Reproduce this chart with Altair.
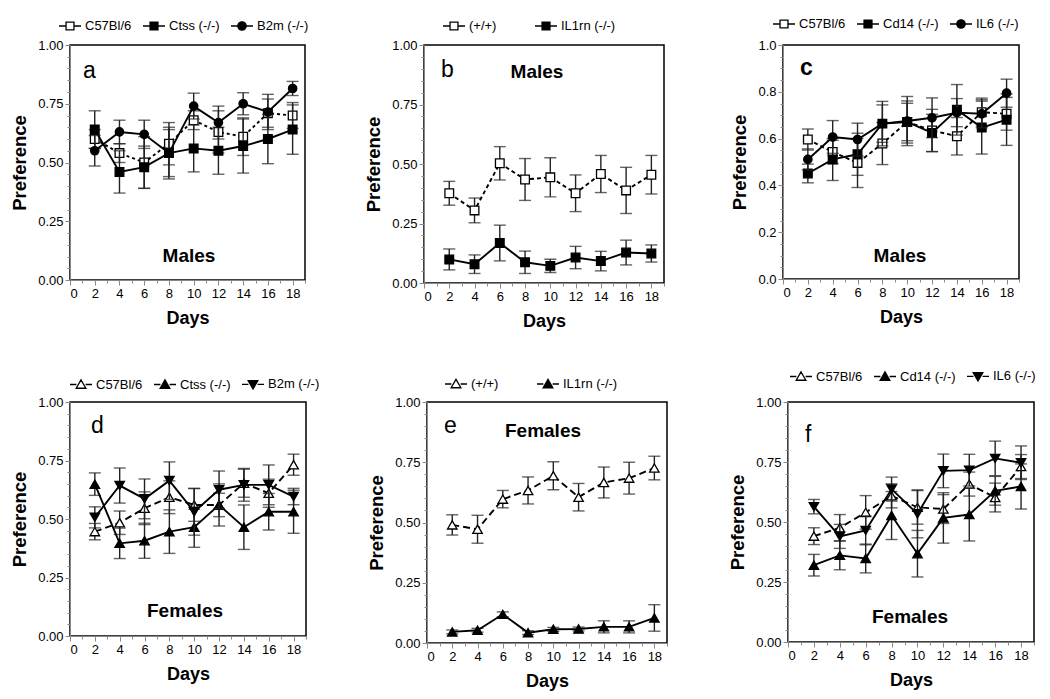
import altair as alt
import pandas as pd

FONT = "Liberation Sans"

days = [2, 4, 6, 8, 10, 12, 14, 16, 18]

# Panel a (males)
a_c57 = [0.60, 0.54, 0.50, 0.58, 0.68, 0.63, 0.61, 0.71, 0.70]
a_c57_err = [0.04, 0.04, 0.11, 0.09, 0.04, 0.09, 0.08, 0.06, 0.055]
a_ctss = [0.64, 0.46, 0.48, 0.54, 0.56, 0.55, 0.57, 0.60, 0.64]
a_ctss_err = [0.08, 0.09, 0.09, 0.10, 0.10, 0.10, 0.115, 0.105, 0.105]
a_b2m = [0.55, 0.63, 0.62, 0.54, 0.74, 0.67, 0.75, 0.715, 0.815]
a_b2m_err = [0.065, 0.05, 0.06, 0.11, 0.055, 0.07, 0.047, 0.075, 0.03]

# Panel b (males)
b_wt = [0.377, 0.305, 0.503, 0.435, 0.444, 0.377, 0.458, 0.389, 0.455]
b_wt_err = [0.05, 0.052, 0.07, 0.088, 0.082, 0.077, 0.078, 0.097, 0.081]
b_ko = [0.099, 0.079, 0.168, 0.087, 0.072, 0.107, 0.092, 0.128, 0.124]
b_ko_err = [0.044, 0.039, 0.075, 0.047, 0.028, 0.047, 0.041, 0.052, 0.036]

# Panel c (males)
c_c57 = [0.596, 0.543, 0.496, 0.579, 0.671, 0.635, 0.610, 0.713, 0.706]
c_c57_err = [0.045, 0.05, 0.105, 0.09, 0.08, 0.09, 0.08, 0.06, 0.07]
c_cd14 = [0.451, 0.511, 0.533, 0.664, 0.671, 0.624, 0.723, 0.647, 0.681]
c_cd14_err = [0.04, 0.09, 0.09, 0.08, 0.09, 0.08, 0.108, 0.113, 0.11]
c_il6 = [0.511, 0.607, 0.596, 0.664, 0.675, 0.689, 0.711, 0.706, 0.794]
c_il6_err = [0.045, 0.07, 0.07, 0.095, 0.105, 0.085, 0.06, 0.06, 0.06]

# Panel d (females)
d_c57 = [0.446, 0.484, 0.546, 0.593, 0.560, 0.560, 0.653, 0.610, 0.732]
d_c57_err = [0.035, 0.05, 0.07, 0.07, 0.07, 0.05, 0.06, 0.06, 0.045]
d_ctss = [0.649, 0.396, 0.407, 0.446, 0.465, 0.560, 0.465, 0.531, 0.531]
d_ctss_err = [0.048, 0.065, 0.075, 0.093, 0.086, 0.09, 0.095, 0.078, 0.092]
d_b2m = [0.507, 0.643, 0.586, 0.664, 0.531, 0.625, 0.646, 0.646, 0.596]
d_b2m_err = [0.045, 0.075, 0.085, 0.08, 0.10, 0.08, 0.07, 0.085, 0.035]

# Panel e (females)
e_wt = [0.490, 0.472, 0.597, 0.633, 0.694, 0.605, 0.666, 0.684, 0.726]
e_wt_err = [0.042, 0.058, 0.036, 0.056, 0.058, 0.057, 0.064, 0.066, 0.049]
e_ko = [0.046, 0.053, 0.119, 0.043, 0.057, 0.058, 0.067, 0.067, 0.104]
e_ko_err = [0.008, 0.008, 0.01, 0.008, 0.008, 0.008, 0.025, 0.025, 0.055]

# Panel f (females)
f_c57 = [0.441, 0.476, 0.540, 0.609, 0.561, 0.554, 0.658, 0.602, 0.731]
f_c57_err = [0.035, 0.055, 0.07, 0.05, 0.07, 0.06, 0.05, 0.06, 0.05]
f_cd14 = [0.320, 0.361, 0.348, 0.527, 0.368, 0.517, 0.531, 0.630, 0.648]
f_cd14_err = [0.045, 0.06, 0.06, 0.10, 0.097, 0.105, 0.11, 0.06, 0.094]
f_il6 = [0.564, 0.440, 0.465, 0.637, 0.534, 0.713, 0.716, 0.765, 0.747]
f_il6_err = [0.03, 0.05, 0.06, 0.05, 0.10, 0.07, 0.066, 0.072, 0.07]

# legend symbol paths (line segments + marker)
LINE = "M-1,0H-0.42M0.42,0H1"
P_SQ = LINE + "M-0.36,-0.36H0.36V0.36H-0.36Z"
P_CI = LINE + "M-0.38,0A0.38,0.38 0 1,1 0.38,0A0.38,0.38 0 1,1 -0.38,0Z"
P_TU = LINE + "M0,-0.42L0.44,0.34L-0.44,0.34Z"
P_TD = LINE + "M0,0.42L0.44,-0.34L-0.44,-0.34Z"
LEG_PATH = {"square": P_SQ, "circle": P_CI, "triangle-up": P_TU, "triangle-down": P_TD}

x_test = "datum.value % 2 == 0"
x_axis = alt.Axis(
    values=list(range(0, 20)),
    labelExpr=f"{x_test} ? datum.value : ''",
    tickSize={"condition": {"test": x_test, "value": 5}, "value": 3},
    title="Days", titleFontSize=18, titleFontWeight="bold", titlePadding=9,
    labelFontSize=13, labelPadding=2, grid=False, labelOverlap=False,
)


def y_axis(step):
    mult = round(1 / step)
    test = f"abs(datum.value*{mult} - round(datum.value*{mult})) < 0.01"
    fmt = ".2f" if step == 0.25 else ".1f"
    return alt.Axis(
        values=[round(i * 0.05, 2) for i in range(21)],
        labelExpr=f"{test} ? format(datum.value, '{fmt}') : ''",
        tickSize={"condition": {"test": test, "value": 5}, "value": 3},
        title="Preference", titleFontSize=18.5, titleFontWeight="bold", titlePadding=8,
        labelFontSize=13, labelPadding=2, grid=False, labelOverlap=False,
    )


def panel(series, w, h, ystep, letter, lx, ly, lbold, sex, sx, sy, lgx, lgy, grid_all=False):
    ya = y_axis(ystep)

    def X():
        return alt.X("day:Q", scale=alt.Scale(domain=[0, 19], nice=False, zero=False), axis=x_axis)

    def Y(f):
        return alt.Y(f"{f}:Q", scale=alt.Scale(domain=[0, 1], nice=False), axis=ya)

    layers = []
    for name, vals, errs, shape, filled, dash in series:
        df = pd.DataFrame({
            "day": days, "v": vals,
            "lo": [v - e for v, e in zip(vals, errs)],
            "hi": [v + e for v, e in zip(vals, errs)],
        })
        base = alt.Chart(df)
        layers.append(base.mark_rule(color="#222", strokeWidth=1.4).encode(x=X(), y=Y("lo"), y2="hi"))
        layers.append(base.mark_tick(orient="horizontal", size=12, thickness=1.4, color="#222").encode(x=X(), y=Y("lo")))
        layers.append(base.mark_tick(orient="horizontal", size=12, thickness=1.4, color="#222").encode(x=X(), y=Y("hi")))
        if dash:
            layers.append(base.mark_line(color="black", strokeWidth=1.9, strokeDash=dash).encode(x=X(), y=Y("v")))
        else:
            layers.append(base.mark_line(color="black", strokeWidth=1.9).encode(x=X(), y=Y("v")))
        size = 75 if shape == "square" else (70 if shape == "circle" else 90)
        layers.append(base.mark_point(shape=shape, filled=True, fill="black" if filled else "white",
                                      stroke="black", strokeWidth=1.3, size=size, opacity=1)
                      .encode(x=X(), y=Y("v")))

    names = [s[0] for s in series]
    paths = [LEG_PATH[s[3]] for s in series]
    fills = ["black" if s[4] else "white" for s in series]
    leg = alt.Legend(orient="none", legendX=lgx, legendY=lgy, direction="horizontal",
                     columns=len(names), title=None, labelFont=FONT, labelFontSize=13,
                     labelColor="black", symbolSize=484, symbolStrokeWidth=1.3,
                     symbolOpacity=1, labelOffset=3,
                     columnPadding=8, gridAlign="all" if grid_all else "each")
    layers.append(
        alt.Chart(pd.DataFrame({"lg": names})).transform_filter("false")
        .mark_point(filled=False, strokeWidth=1.3, opacity=1)
        .encode(shape=alt.Shape("lg:N", scale=alt.Scale(domain=names, range=paths), legend=leg),
                fill=alt.Fill("lg:N", scale=alt.Scale(domain=names, range=fills), legend=leg),
                stroke=alt.Stroke("lg:N", scale=alt.Scale(domain=names, range=["black"] * len(names)), legend=leg))
    )
    layers.append(
        alt.Chart(pd.DataFrame({"t": [letter]}))
        .mark_text(align="left", baseline="alphabetic", fontSize=23, font=FONT, color="black",
                   fontWeight="bold" if lbold else "normal")
        .encode(x=alt.value(lx), y=alt.value(ly), text="t:N")
    )
    layers.append(
        alt.Chart(pd.DataFrame({"t": [sex]}))
        .mark_text(align="center", baseline="alphabetic", fontSize=19, font=FONT, color="black",
                   fontWeight="bold")
        .encode(x=alt.value(sx), y=alt.value(sy), text="t:N")
    )
    return alt.layer(*layers).properties(
        width=w, height=h, view=alt.ViewBackground(stroke="black", strokeWidth=1.5, fill="white"))


pa = panel([("C57Bl/6", a_c57, a_c57_err, "square", False, [3, 3]),
            ("Ctss (-/-)", a_ctss, a_ctss_err, "square", True, None),
            ("B2m (-/-)", a_b2m, a_b2m_err, "circle", True, None)],
           235, 235, 0.25, "a", 13, 33, False, "Males", 119, 217, -12, -31)
pb = panel([("(+/+)", b_wt, b_wt_err, "square", False, [4, 3]),
            ("IL1rn (-/-)", b_ko, b_ko_err, "square", True, None)],
           240, 238, 0.25, "b", 17, 32, False, "Males", 113, 33, 18, -31, grid_all=True)
pc = panel([("C57Bl/6", c_c57, c_c57_err, "square", False, [4, 3]),
            ("Cd14 (-/-)", c_cd14, c_cd14_err, "square", True, None),
            ("IL6 (-/-)", c_il6, c_il6_err, "circle", True, None)],
           236, 234, 0.2, "c", 17, 30, True, "Males", 117, 217, -11, -33)
pd_ = panel([("C57Bl/6", d_c57, d_c57_err, "triangle-up", False, [7, 4]),
             ("Ctss (-/-)", d_ctss, d_ctss_err, "triangle-up", True, None),
             ("B2m (-/-)", d_b2m, d_b2m_err, "triangle-down", True, None)],
            236, 234, 0.25, "d", 21, 31, False, "Females", 115, 215, -1, -30)
pe = panel([("(+/+)", e_wt, e_wt_err, "triangle-up", False, [7, 4]),
            ("IL1rn (-/-)", e_ko, e_ko_err, "triangle-up", True, None)],
           240, 241, 0.25, "e", 17, 31, False, "Females", 116, 35, 17, -30, grid_all=True)
pf = panel([("C57Bl/6", f_c57, f_c57_err, "triangle-up", False, [7, 4]),
            ("Cd14 (-/-)", f_cd14, f_cd14_err, "triangle-up", True, None),
            ("IL6 (-/-)", f_il6, f_il6_err, "triangle-down", True, None)],
           246, 240, 0.25, "f", 17, 40, False, "Females", 122, 221, 1, -38)

row1 = alt.hconcat(pa, pb, pc, spacing=119, bounds="flush").resolve_scale(
    shape="independent", fill="independent", stroke="independent")
row2 = alt.hconcat(pd_, pe, pf, spacing=121, bounds="flush").resolve_scale(
    shape="independent", fill="independent", stroke="independent")

chart = (
    alt.vconcat(row1, row2, spacing=32)
    .resolve_scale(shape="independent", fill="independent", stroke="independent")
    .properties(padding={"left": 1, "top": 3, "right": 5, "bottom": 5})
    .configure_axis(domainColor="black", domainWidth=1.5, tickColor="black", tickWidth=1.2,
                    labelColor="black", titleColor="black", labelFont=FONT, titleFont=FONT)
    .configure(background="white")
)

chart.save("out.html", embed_options={"renderer": "svg", "actions": False})
